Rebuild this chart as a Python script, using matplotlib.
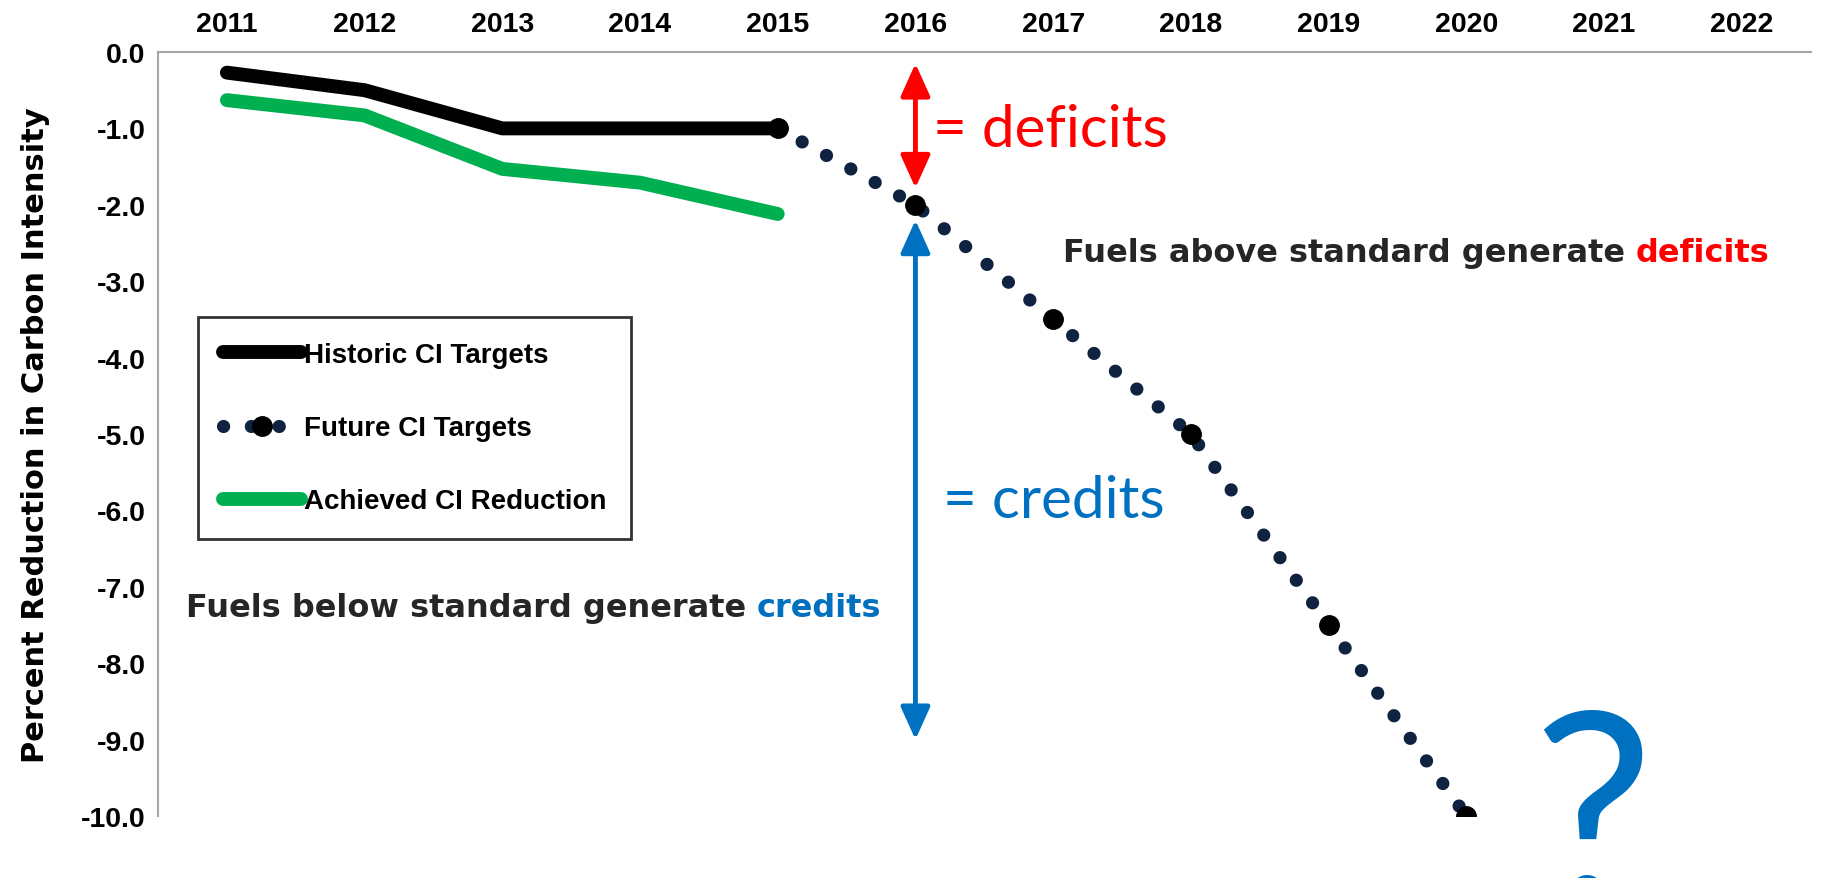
import matplotlib
matplotlib.use("Agg")
import matplotlib.pyplot as plt
from matplotlib.lines import Line2D

# ---- data ----
years = [2011, 2012, 2013, 2014, 2015, 2016, 2017, 2018, 2019, 2020, 2021, 2022]
hist_years = [2011, 2012, 2013, 2014, 2015]
historic = [-0.27, -0.5, -1.0, -1.0, -1.0]
achieved = [-0.63, -0.83, -1.53, -1.71, -2.12]
future_years = [2015, 2016, 2017, 2018, 2019, 2020]
future = [-1.0, -2.0, -3.5, -5.0, -7.5, -10.0]
y_ticks = [0, -1, -2, -3, -4, -5, -6, -7, -8, -9, -10]

narrow = ['Liberation Sans', 'DejaVu Sans']

fig = plt.figure(figsize=(18.27, 8.79), dpi=100)
ax = fig.add_axes([0.0865, 0.0705, 0.9045, 0.8692])

dot_style = (0, (0.01, 2.1))
# lines
ax.plot(future_years, future, color='#0F2341', lw=9.5, linestyle=dot_style,
        dash_capstyle='round', zorder=2)
ax.plot(future_years, future, color='black', lw=0, marker='o', markersize=14, zorder=4)
fut_handle = Line2D([], [], color='#0F2341', lw=9.5, linestyle=dot_style,
                    dash_capstyle='round', marker='o', markersize=14,
                    markerfacecolor='black', markeredgecolor='black')
ax.plot(hist_years, historic, color='black', lw=10, solid_capstyle='round',
        solid_joinstyle='round', zorder=3)
ax.plot(hist_years, achieved, color='#00B050', lw=10, solid_capstyle='round',
        solid_joinstyle='round', zorder=3)

ax.set_xlim(2010.5, 2022.5)
ax.set_ylim(-10, 0)
ax.set_xticks(years)
ax.set_xticklabels([str(y) for y in years])
ax.set_yticks(y_ticks)
ax.set_yticklabels([f"{v:.1f}" for v in y_ticks])
ax.xaxis.tick_top()
ax.tick_params(axis='x', length=0, pad=11)
ax.tick_params(axis='y', length=0, pad=9)
for lab in ax.get_xticklabels() + ax.get_yticklabels():
    lab.set_fontfamily(narrow)
    lab.set_fontweight('bold')
    lab.set_fontsize(20.5)
for s in ['right', 'bottom']:
    ax.spines[s].set_visible(False)
for s in ['top', 'left']:
    ax.spines[s].set_color('#A6A6A6')
    ax.spines[s].set_linewidth(1.5)

ax.set_ylabel('Percent Reduction in Carbon Intensity', fontsize=22, fontweight='bold',
              family='DejaVu Sans', labelpad=22)

# legend
handles = [Line2D([], [], color='black', lw=10, solid_capstyle='round'),
           fut_handle,
           Line2D([], [], color='#00B050', lw=10, solid_capstyle='round')]
labels = ['Historic CI Targets', 'Future CI Targets', 'Achieved CI Reduction']
leg = ax.legend(handles, labels, loc='upper left', bbox_to_anchor=(198 / 1827, 1 - 318 / 879),
                bbox_transform=fig.transFigure, frameon=True, fancybox=False,
                edgecolor='black', handlelength=2.8, handletextpad=0.1,
                labelspacing=1.7, borderpad=0.9, borderaxespad=0, numpoints=1,
                prop=dict(family=narrow, weight='bold', size=20))
leg.get_frame().set_linewidth(2)

# arrows
ax.annotate('', xy=(2016, -0.15), xytext=(2016, -1.78),
            arrowprops=dict(arrowstyle='<|-|>,head_length=1.0,head_width=0.45',
                            color='#FF0000', lw=3.5, shrinkA=0, shrinkB=0,
                            mutation_scale=20))
ax.annotate('', xy=(2016, -2.2), xytext=(2016, -9.0),
            arrowprops=dict(arrowstyle='<|-|>,head_length=1.0,head_width=0.45',
                            color='#0070C0', lw=3.5, shrinkA=0, shrinkB=0,
                            mutation_scale=20))

big = ['Lato', 'DejaVu Sans']
ax.text(2016.13, -1.02, '= deficits', color='#FF0000', fontsize=42, family=big,
        fontweight='normal', va='center', ha='left')
ax.text(2016.2, -5.87, '= credits', color='#0070C0', fontsize=42, family=big,
        fontweight='normal', va='center', ha='left')

bold = dict(family='DejaVu Sans', fontweight='bold', fontsize=23)
t1 = ax.text(2017.07, -2.63, 'Fuels above standard generate ', color='#262626',
             va='center', ha='left', **bold)
ax.annotate('deficits', xy=(1, 0), xycoords=t1, va='bottom', ha='left',
            color='#FF0000', **bold)
t2 = ax.text(2010.70, -7.27, 'Fuels below standard generate ', color='#262626',
             va='center', ha='left', **bold)
ax.annotate('credits', xy=(1, 0), xycoords=t2, va='bottom', ha='left',
            color='#0070C0', **bold)

ax.text(2020.92, -8.55, '?', color='#0070C0', fontsize=195, family=big,
        fontweight='normal', ha='center', va='top', clip_on=False)

fig.savefig('out.png', dpi=100)
